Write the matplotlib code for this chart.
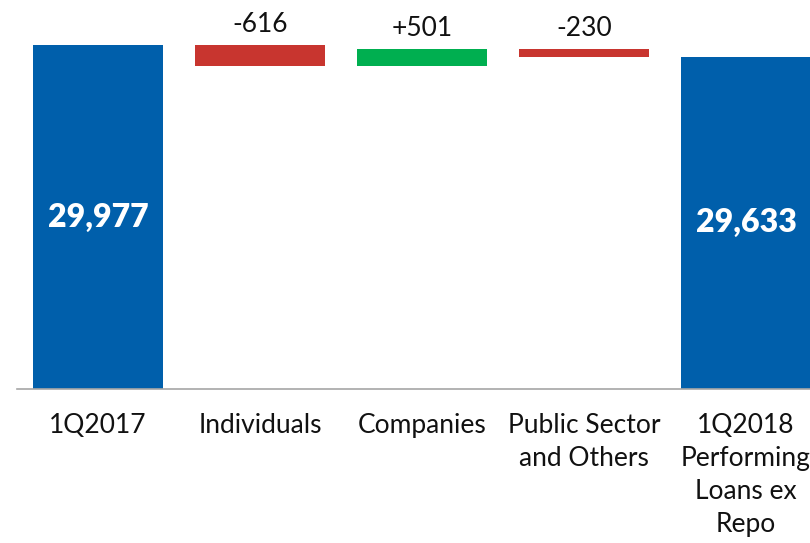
"""Waterfall: performing loans ex repo, 1Q2017 -> 1Q2018."""
import numpy as np
import matplotlib
matplotlib.use("Agg")
import matplotlib.pyplot as plt

# ---- data ----
categories = ["1Q2017", "Individuals", "Companies", "Public Sector\nand Others",
              "1Q2018\nPerforming\nLoans ex\nRepo"]
start_value = 29977
deltas = [-616, 501, -230]
end_value = 29633
value_labels = ["29,977", "-616", "+501", "-230", "29,633"]

BASE = 20000  # truncated axis floor

BLUE = "#005FAB"
RED = "#C8352F"
GREEN = "#00AF50"
FONT = "Lato"

plt.rcParams["font.family"] = [FONT, "DejaVu Sans"]

fig = plt.figure(figsize=(8.10, 5.43), dpi=100)
ax = fig.add_axes([17 / 810, (543 - 389) / 543, 1.0, 389 / 543])

x = np.arange(len(categories))
width = 0.8

# totals
ax.bar(x[0], start_value - BASE, bottom=BASE, width=width, color=BLUE)
ax.bar(x[-1], end_value - BASE, bottom=BASE, width=width, color=BLUE)

# floating steps
level = start_value
for i, d in enumerate(deltas, start=1):
    lo, hi = (level + d, level) if d < 0 else (level, level + d)
    ax.bar(x[i], hi - lo, bottom=lo, width=width, color=RED if d < 0 else GREEN)
    ax.annotate(value_labels[i], (x[i], hi), xytext=(0, 6), textcoords="offset points",
                ha="center", va="bottom", fontsize=19, color="#111111")
    level += d

# labels inside totals
for xi, v, lab in [(x[0], start_value, value_labels[0]), (x[-1], end_value, value_labels[-1])]:
    ax.text(xi, (BASE + v) / 2, lab, ha="center", va="center", color="white",
            fontsize=23, fontweight="heavy")

ax.set_xlim(-0.5, len(categories) - 0.5)
ax.set_ylim(BASE, BASE + 389 * 29.0)
ax.set_xticks(x)
ax.set_xticklabels(categories, fontsize=19, color="#111111", linespacing=1.4)
ax.tick_params(axis="x", length=0, pad=17)
ax.set_yticks([])
for s in ["top", "right", "left"]:
    ax.spines[s].set_visible(False)
ax.spines["bottom"].set_color("#a6a6a6")
ax.spines["bottom"].set_linewidth(1.2)

fig.savefig("out.png", dpi=100)
